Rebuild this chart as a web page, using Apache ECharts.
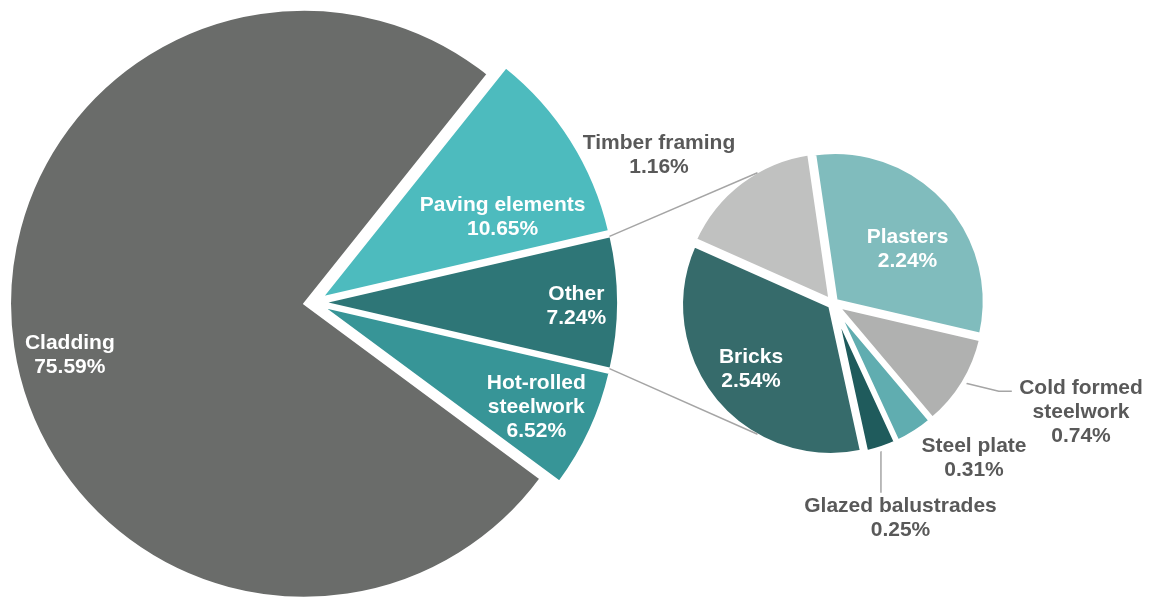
<!DOCTYPE html>
<html lang="en">
<head>
<meta charset="UTF-8">
<title>Share by material</title>
<script src="https://cdn.jsdelivr.net/npm/echarts@6/dist/echarts.min.js"></script>
<style>
  html, body { margin: 0; padding: 0; background: #fff; }
  #chart { width: 1160px; height: 601px; }
</style>
</head>
<body>
<div id="chart"></div>
<script>
// main pie, % of total
const mainNames = ['Paving elements', 'Other', 'Hot-rolled\nsteelwork', 'Cladding'];
const mainValues = [10.65, 7.24, 6.52, 75.59];

// what "Other" is made of, % of total
const subNames = ['Timber framing', 'Plasters', 'Cold formed\nsteelwork', 'Steel plate', 'Glazed balustrades', 'Bricks'];
const subValues = [1.16, 2.24, 0.74, 0.31, 0.25, 2.54];

// styles
const mainColors = ['#4dbbbe', '#2e7677', '#379597', '#6a6c6a'];
const subColors = ['#c0c1c0', '#80bcbd', '#b0b1b0', '#60adb0', '#1f5b5c', '#366b6b'];
const subTextColors = ['#595959', '#fff', '#595959', '#595959', '#595959', '#fff'];
const lineGrey = '#a5a5a5';
const font = "'Liberation Sans', Arial, sans-serif";

// geometry
const MAIN = { c: [314, 302.5], r: 294, offset: 10, border: 2 };
const SUB = { c: [833, 303.5], r: 150, offset: 3, border: 5 };
const sum = a => a.reduce((s, v) => s + v, 0);
// "Other" sits centred on 3 o'clock
const mainStart = mainValues[0] / sum(mainValues) * 360 + mainValues[1] / sum(mainValues) * 180;
const subStart = 156;

// label centres, relative to their pie centre
const mainLabelAt = [[188.6, -85.1], [262.3, 3.5], [222.3, 105.2], [-244.2, 52.9]];
const subLabelAt = [[-174, -148.1], [74.5, -53.8], [248, 108.5], [141, 154.5], [67.5, 214.5], [-82, 66.2]];

function midAngles(values, start) {
  const total = sum(values);
  let a = start;
  return values.map(v => {
    const span = v / total * 360;
    const m = a - span / 2;
    a -= span;
    return m;
  });
}
function polar(c, r, deg) {
  const t = deg * Math.PI / 180;
  return [c[0] + r * Math.cos(t), c[1] - r * Math.sin(t)];
}

const mainMid = midAngles(mainValues, mainStart);
const subMid = midAngles(subValues, subStart);

function fmt(p) {
  return p.name + '\n' + p.value.toFixed(2) + '%';
}

// leader lines for the two small slices that have them
function subLeader(i) {
  const p0 = polar(SUB.c, SUB.r + SUB.offset - 2, subMid[i]);
  if (i === 2) return [p0, [p0[0] + 37, p0[1] + 9], [p0[0] + 50, p0[1] + 9]];
  if (i === 4) return [p0, [p0[0], p0[1] + 46]];
  return null;
}

// one series per slice: the whole pie is laid out by echarts each time,
// only slice k is painted, with its centre pushed out along its bisector
function explodedPie(names, values, colors, textColors, geo, start, mids, labelAt, leader) {
  return values.map((_, k) => {
    const c = polar(geo.c, geo.offset, mids[k]);
    const pts = leader ? leader(k) : null;
    return {
      type: 'pie',
      center: c,
      radius: geo.r,
      startAngle: start,
      clockwise: true,
      avoidLabelOverlap: false,
      emphasis: { disabled: true },
      label: {
        show: true, position: 'inside', formatter: fmt,
        color: textColors[k], fontFamily: font, fontWeight: 'bold', fontSize: 21, lineHeight: 24
      },
      labelLine: { show: false },
      labelLayout: p => {
        if (p.dataIndex !== k) return {};
        const at = labelAt[k];
        const out = { x: geo.c[0] + at[0], y: geo.c[1] + at[1], align: 'center', verticalAlign: 'middle' };
        if (pts) out.labelLinePoints = pts;
        return out;
      },
      data: names.map((n, i) => i === k ? {
        name: n, value: values[i],
        itemStyle: { color: colors[i], borderColor: '#fff', borderWidth: geo.border },
        label: pts ? { position: 'outside' } : {},
        labelLine: pts ? { show: true, length: 10, length2: 10, lineStyle: { color: lineGrey, width: 1.5 } } : { show: false }
      } : {
        name: n, value: values[i],
        itemStyle: { color: 'rgba(0,0,0,0)', borderWidth: 0 },
        label: { show: false },
        labelLine: { show: false }
      })
    };
  });
}

// lines from the "Other" slice over to the second pie
const otherHalf = mainValues[1] / sum(mainValues) * 180;
const otherC = polar(MAIN.c, MAIN.offset, mainMid[1]);
const topA = polar(otherC, MAIN.r - 1, mainMid[1] + otherHalf);
const botA = polar(otherC, MAIN.r - 1, mainMid[1] - otherHalf);
const topB = polar(SUB.c, SUB.r + 1, 120);
const botB = polar(SUB.c, SUB.r + 1, -120);

const chart = echarts.init(document.getElementById('chart'));
chart.setOption({
  animation: false,
  backgroundColor: '#fff',
  graphic: [[topA, topB], [botA, botB]].map(([a, b]) => ({
    type: 'line', z: 10, silent: true,
    shape: { x1: a[0], y1: a[1], x2: b[0], y2: b[1] },
    style: { stroke: lineGrey, lineWidth: 1.5 }
  })),
  series: [].concat(
    explodedPie(mainNames, mainValues, mainColors, mainColors.map(() => '#fff'), MAIN, mainStart, mainMid, mainLabelAt, null),
    explodedPie(subNames, subValues, subColors, subTextColors, SUB, subStart, subMid, subLabelAt, subLeader)
  )
});
</script>
</body>
</html>
